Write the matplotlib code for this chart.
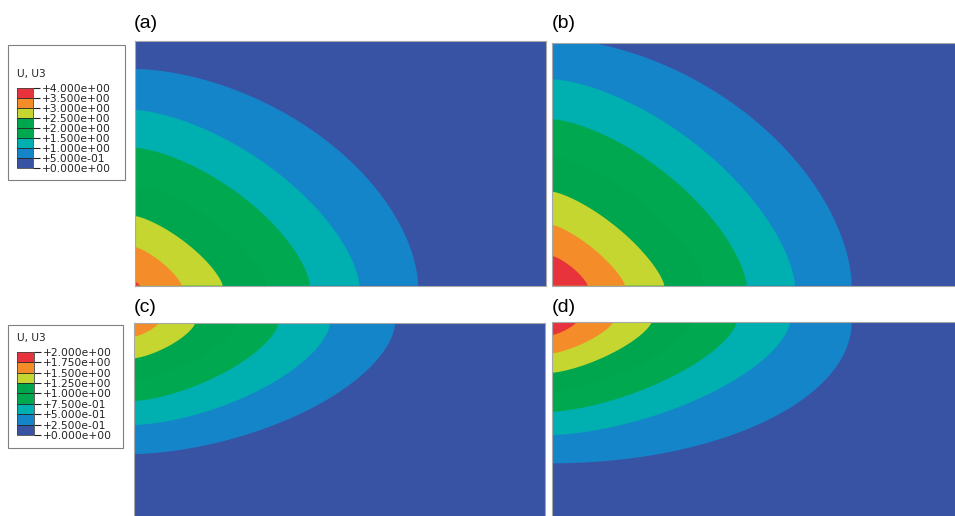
import numpy as np
import matplotlib
matplotlib.use("Agg")
import matplotlib.pyplot as plt
from matplotlib.colors import ListedColormap, BoundaryNorm
from matplotlib.patches import Rectangle

# Contour levels of U3 for the two load cases
levels_top = [0.0, 0.5, 1.0, 1.5, 2.0, 2.5, 3.0, 3.5, 4.0]
levels_bottom = [0.0, 0.25, 0.5, 0.75, 1.0, 1.25, 1.5, 1.75, 2.0]

band_colors = ["#3853a4", "#1585c9", "#00afb0", "#00a94f",
               "#00a64e", "#c4d62f", "#f48c29", "#e8333c"]

# Iso-line extents (distance from the loaded corner) for each contour
# level above zero, innermost levels last; exponent sets the iso-line shape
a_reach_x = [283.3, 224.7, 175.3, 132.0, 88.0, 47.0, 5.3]
a_reach_y = [216.7, 175.7, 138.0, 100.7, 69.7, 38.7, 4.0]
a_shape = [1.75, 1.55, 1.5, 1.45, 1.35, 1.3, 1.3]

b_reach_x = [299.4, 242.7, 194.4, 152.0, 112.0, 72.7, 35.4]
b_reach_y = [247.0, 206.4, 166.4, 129.0, 94.0, 60.7, 29.7]
b_shape = [1.75, 1.55, 1.5, 1.45, 1.35, 1.3, 1.3]

c_reach_x = [261.0, 196.0, 144.3, 103.0, 61.0, 24.3]
c_reach_y = [130.7, 101.7, 77.7, 56.0, 35.0, 13.4]
c_shape = [1.7, 1.6, 1.5, 1.45, 1.4, 1.3]

d_reach_x = [299.4, 237.7, 184.4, 140.0, 99.4, 61.0, 24.4]
d_reach_y = [141.6, 113.3, 90.0, 70.0, 51.0, 31.6, 13.3]
d_shape = [2.0, 1.6, 1.5, 1.45, 1.4, 1.35, 1.3]

panel_labels = ["(a)", "(b)", "(c)", "(d)"]

W, H = 955, 516
fig = plt.figure(figsize=(W / 100, H / 100), dpi=100)


def px_axes(x0, y0, w, h):
    return fig.add_axes([x0 / W, 1 - (y0 + h) / H, w / W, h / H])


def iso_region(a, b, p, n=200):
    t = np.linspace(0, np.pi / 2, n)
    x = a * np.cos(t) ** (2 / p)
    y = b * np.sin(t) ** (2 / p)
    return np.r_[0, x, 0], np.r_[0, y, 0]


def draw_panel(rect, reach_x, reach_y, shape, flip):
    ax = px_axes(*rect)
    w, h = rect[2], rect[3]
    ax.set_facecolor(band_colors[0])
    for k, (a, b, p) in enumerate(zip(reach_x, reach_y, shape)):
        xs, ys = iso_region(a, b, p)
        ax.fill(xs, ys, color=band_colors[k + 1], lw=0)
    ax.set_xlim(0, w)
    if flip:
        ax.set_ylim(h, 0)
    else:
        ax.set_ylim(0, h)
    ax.set_xticks([])
    ax.set_yticks([])
    for s in ax.spines.values():
        s.set_color("#a8a8a8")
        s.set_linewidth(0.8)
    return ax


draw_panel((134.7, 41, 411, 244.7), a_reach_x, a_reach_y, a_shape, False)
draw_panel((552.3, 43, 411, 242.7), b_reach_x, b_reach_y, b_shape, False)
draw_panel((134.0, 323.3, 411, 245), c_reach_x, c_reach_y, c_shape, True)
draw_panel((552.3, 321.7, 411, 245), d_reach_x, d_reach_y, d_shape, True)

label_pos = [(134, 24), (552, 24), (134, 307), (552, 307)]
for lab, (x, y) in zip(panel_labels, label_pos):
    fig.text(x / W, 1 - y / H, lab, fontsize=14, family="Liberation Sans",
             ha="left", va="center")


def draw_legend(box, bar, levels):
    bx, by, bw, bh = box
    fig.patches.append(Rectangle((bx / W, 1 - (by + bh) / H), bw / W, bh / H,
                                 transform=fig.transFigure, fill=False,
                                 edgecolor="#808080", lw=0.8))
    fig.text((bx + 9) / W, 1 - (bar[1] - 14) / H, "U, U3", fontsize=7.6,
             family="DejaVu Sans", ha="left", va="center", color="#222222")
    cax = px_axes(*bar)
    cmap = ListedColormap(band_colors)
    norm = BoundaryNorm(levels, cmap.N)
    cb = fig.colorbar(plt.cm.ScalarMappable(norm=norm, cmap=cmap), cax=cax,
                      ticks=levels)
    cb.ax.set_yticklabels(["{:+.3e}".format(v) for v in levels])
    cb.ax.tick_params(length=5, width=0.8, labelsize=7.7, pad=1,
                      colors="#222222")
    cb.outline.set_linewidth(0.6)
    cb.outline.set_edgecolor("#444444")
    for v in levels[1:-1]:
        cax.axhline(v, color="#222222", lw=0.6)


draw_legend((8, 45, 117, 135), (17.3, 87.7, 16, 80), levels_top)
draw_legend((8, 325, 115, 123), (17.3, 351.7, 17, 83.3), levels_bottom)

fig.savefig("out.png", dpi=100)
